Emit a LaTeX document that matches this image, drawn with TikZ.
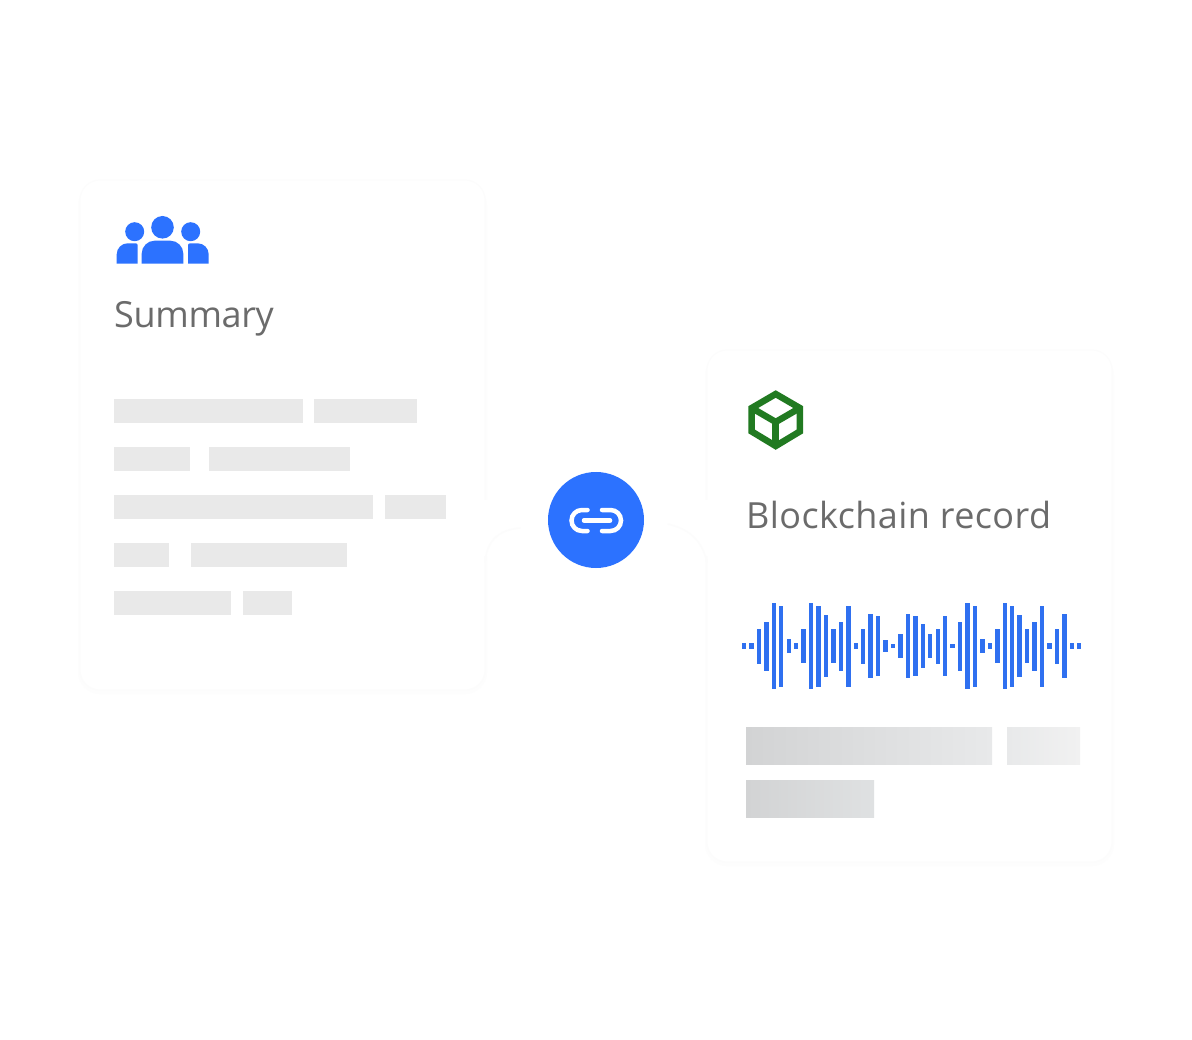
\documentclass[tikz,border=0pt]{standalone}
\usepackage{fontspec}
\setmainfont{Open Sans}
\usepackage{xcolor}
\usepackage{tikz}
\usetikzlibrary{positioning, calc}
\definecolor{linkblue}{HTML}{2C72FF}
\definecolor{waveblue}{HTML}{2F70F0}
\definecolor{cubegreen}{HTML}{217A21}
\definecolor{titlegray}{HTML}{6B6B6B}
\definecolor{linegray}{HTML}{E9E9E9}
\definecolor{cardedge}{HTML}{FCFCFC}
\definecolor{cardshadow}{HTML}{FDFDFD}
\definecolor{shadedark}{HTML}{D2D3D4}
\definecolor{shademid}{HTML}{E8E9EA}
\definecolor{shadelight}{HTML}{F1F1F1}
\definecolor{shadeend}{HTML}{DFE1E2}

\begin{document}
\begin{tikzpicture}[
  x=1pt, y=-1pt,
  card/.style={draw=cardedge, fill=white, rounded corners=20pt, line width=1pt,
               minimum width=405pt, minimum height=510pt, inner sep=0pt},
  title/.style={anchor=base west, inner sep=0pt, text=titlegray,
                font=\fontsize{36}{40}\selectfont},
  linkbadge/.style={circle, fill=linkblue, minimum size=96pt, inner sep=0pt},
  wavebar/.style={fill=waveblue},
  textline/.style={fill=linegray},
  linkstroke/.style={draw=white, line width=4.5pt, line cap=round},
  notch/.style={draw=cardedge, line width=1.5pt, line cap=round}
]
  \useasboundingbox (0,0) rectangle (1192,1040);
  \fill[white] (0,0) rectangle (1192,1040);

  % Cards
  \fill[cardshadow, rounded corners=22pt] (78,184) rectangle (487,694);
  \fill[cardshadow, rounded corners=22pt] (705,354) rectangle (1114,866);
  \node[card] (summarycard) at (282.5,435) {};
  \node[card, minimum height=512pt] (recordcard) at (909.5,606) {};

  % Gaps next to the badge
  \fill[white] (478,500) rectangle (497,556);
  \fill[white] (696,500) rectangle (716,556);
  \draw[notch] (485,562) .. controls (487,542) and (497,530) .. (520,528);
  \draw[notch] (707,562) .. controls (702,542) and (692,530) .. (668,524);

  % Badge
  \node[linkbadge] (badge) at (596,520) {};
  \draw[linkstroke] (587.5,510) -- (582,510) arc[start angle=-90, end angle=-270, radius=10.5] -- (587.5,531);
  \draw[linkstroke] (602,510) -- (610.5,510) arc[start angle=-90, end angle=90, radius=10.5] -- (602,531);
  \draw[linkstroke] (584,520.5) -- (610,520.5);

  % Titles
  \node[title, font=\fontsize{36}{40}\selectfont\addfontfeatures{LetterSpace=-1}] (summary) at (114,328) {Summary};
  \node[title, font=\fontsize{36}{40}\selectfont\addfontfeatures{LetterSpace=1.2}] (record) at (746,528) {Blockchain record};

  % People icon
  \fill[linkblue] (162.5,227.3) circle[radius=11.3];
  \fill[linkblue] (134.7,231.7) circle[radius=9.5];
  \fill[linkblue] (190.7,231.7) circle[radius=9.5];
  \fill[linkblue] (141.7,263.7) [rounded corners=13pt] -- (141.7,240.7) -- (183.3,240.7) [sharp corners] -- (183.3,263.7) -- cycle;
  \fill[linkblue] (116.7,263.7) [rounded corners=11pt] -- (116.7,243.3) [rounded corners=2pt] -- (137.7,243.3) [sharp corners] -- (137.7,263.7) -- cycle;
  \fill[linkblue] (208.7,263.7) [rounded corners=11pt] -- (208.7,243.3) [rounded corners=2pt] -- (188,243.3) [sharp corners] -- (188,263.7) -- cycle;

  % Cube icon
  \draw[cubegreen, line width=6.5pt, miter limit=4, line join=miter]
    (775.7,394) -- (799.8,408) -- (799.8,431.5) -- (775.7,446) -- (751.7,431.5) -- (751.7,408) -- cycle;
  \draw[cubegreen, line width=6.5pt] (751.7,408) -- (775.7,422) -- (799.8,408);
  \draw[cubegreen, line width=6.5pt] (775.7,422) -- (775.7,446);

  % Summary lines
  \foreach \xa/\xb/\ya in {114/303/399, 314/417/399, 114/190/447, 209/350/447,
                           114/373/495, 385/446/495, 114/169/543, 191/347/543,
                           114/231/591, 243/292/591}
    \fill[textline] (\xa,\ya) rectangle (\xb,\ya+24);

  % Waveform
  \foreach \h [count=\i from 0] in {6,6,35,49,86,81,14,6,34,86,81,62,34,49,81,6,35,64,60,12,4,24,64,
                                    60,44,24,35,60,4,49,86,81,14,6,34,86,81,62,34,49,81,6,35,64,6,6}
    \fill[wavebar] ({741.8+7.45*\i},{646-\h/2}) rectangle +(4.4,\h);

  % Record lines
  \shade[left color=shadedark, right color=shademid] (746,727) rectangle (992,764);
  \shade[left color=shademid, right color=shadelight] (1007,727) rectangle (1080,764);
  \shade[left color=shadedark, right color=shadeend] (746,780) rectangle (874,817);
\end{tikzpicture}
\end{document}
